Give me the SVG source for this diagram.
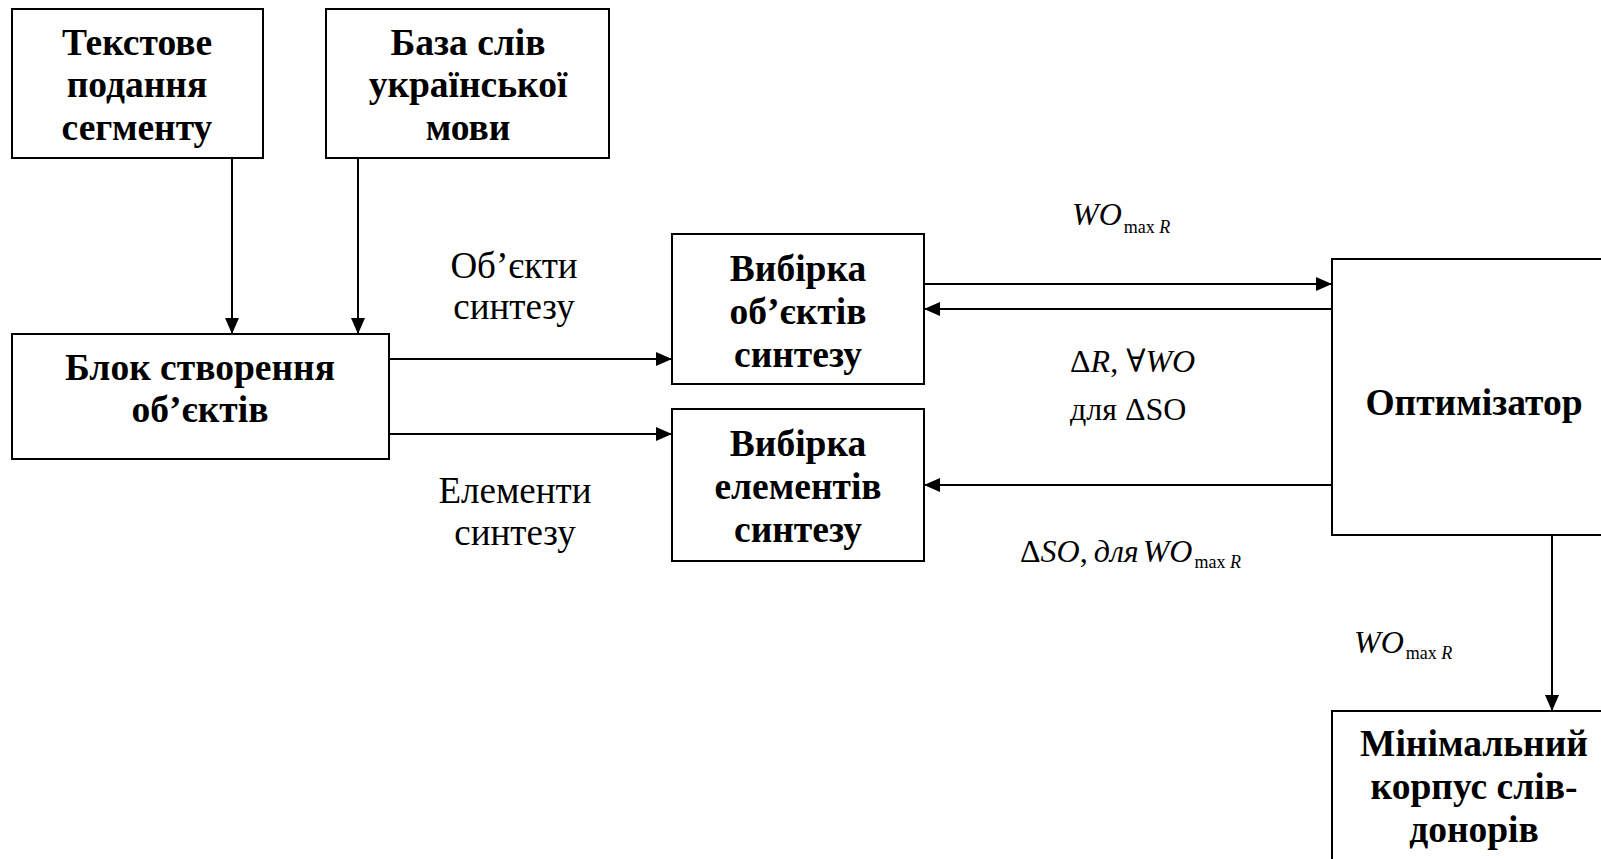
<svg xmlns="http://www.w3.org/2000/svg" width="1601" height="859" viewBox="0 0 1601 859">
<style>
.box{fill:#fff;stroke:#000;stroke-width:2}
.b{font-family:"Liberation Serif","DejaVu Serif",serif;font-weight:bold;font-size:37.5px;text-anchor:middle;fill:#000}
.r{font-family:"Liberation Serif","DejaVu Serif",serif;font-size:37px;text-anchor:middle;fill:#000}
.m{font-family:"Liberation Serif","DejaVu Serif",serif;font-size:32px;fill:#000}
.s{font-size:18px;font-style:normal}
.i{font-style:italic}
.c{fill:none;stroke:#000;stroke-width:2;marker-end:url(#ah)}
</style>
<defs>
<marker id="ah" markerUnits="userSpaceOnUse" markerWidth="16" markerHeight="14" refX="16" refY="7" orient="auto">
<path d="M0,0 L16,7 L0,14 z" fill="#000"/>
</marker>
</defs>
<rect width="1601" height="859" fill="#fff"/>
<g id="connectors">
<line class="c" x1="232" y1="158" x2="232" y2="334"/>
<line class="c" x1="358" y1="158" x2="358" y2="334"/>
<line class="c" x1="389" y1="359" x2="672" y2="359"/>
<line class="c" x1="389" y1="434" x2="672" y2="434"/>
<line class="c" x1="924" y1="284" x2="1332" y2="284"/>
<line class="c" x1="1332" y1="309" x2="924" y2="309"/>
<line class="c" x1="1332" y1="485" x2="924" y2="485"/>
<line class="c" x1="1552" y1="535" x2="1552" y2="711"/>
</g>
<g id="labels">
<text class="r" x="514" y="278">Об’єкти</text>
<text class="r" x="514" y="319">синтезу</text>
<text class="r" x="515" y="503">Елементи</text>
<text class="r" x="515" y="545">синтезу</text>
<text class="m" x="1072" y="225"><tspan class="i">WO</tspan><tspan class="s" dx="2" dy="8">max <tspan class="i">R</tspan></tspan></text>
<text class="m" x="1070" y="372">Δ<tspan class="i">R</tspan>, ∀<tspan class="i">WO</tspan></text>
<text class="m" x="1070" y="420">для ΔSO</text>
<text class="m" x="1020" y="562">Δ<tspan class="i">SO</tspan>,<tspan class="i" dx="6">для</tspan><tspan class="i" dx="4">WO</tspan><tspan class="s" dx="2" dy="6">max <tspan class="i">R</tspan></tspan></text>
<text class="m" x="1354" y="653"><tspan class="i">WO</tspan><tspan class="s" dx="2" dy="6">max <tspan class="i">R</tspan></tspan></text>
</g>
<g id="n1">
<rect class="box" x="12" y="9" width="251" height="149"/>
<text class="b" x="137" y="55">Текстове</text>
<text class="b" x="137" y="97">подання</text>
<text class="b" x="137" y="140">сегменту</text>
</g>
<g id="n2">
<rect class="box" x="326" y="9" width="283" height="149"/>
<text class="b" x="468" y="55">База слів</text>
<text class="b" x="468" y="97">української</text>
<text class="b" x="468" y="140">мови</text>
</g>
<g id="n3">
<rect class="box" x="12" y="334" width="377" height="125"/>
<text class="b" x="200" y="380">Блок створення</text>
<text class="b" x="200" y="422">об’єктів</text>
</g>
<g id="n4">
<rect class="box" x="672" y="234" width="252" height="150"/>
<text class="b" x="798" y="281">Вибірка</text>
<text class="b" x="798" y="324">об’єктів</text>
<text class="b" x="798" y="367">синтезу</text>
</g>
<g id="n5">
<rect class="box" x="672" y="409" width="252" height="152"/>
<text class="b" x="798" y="456">Вибірка</text>
<text class="b" x="798" y="499">елементів</text>
<text class="b" x="798" y="542">синтезу</text>
</g>
<g id="n6">
<rect class="box" x="1332" y="259" width="284" height="276"/>
<text class="b" x="1474" y="415">Оптимізатор</text>
</g>
<g id="n7">
<rect class="box" x="1332" y="711" width="284" height="170"/>
<text class="b" x="1474" y="756">Мінімальний</text>
<text class="b" x="1474" y="799">корпус слів-</text>
<text class="b" x="1474" y="842">донорів</text>
</g>
</svg>
